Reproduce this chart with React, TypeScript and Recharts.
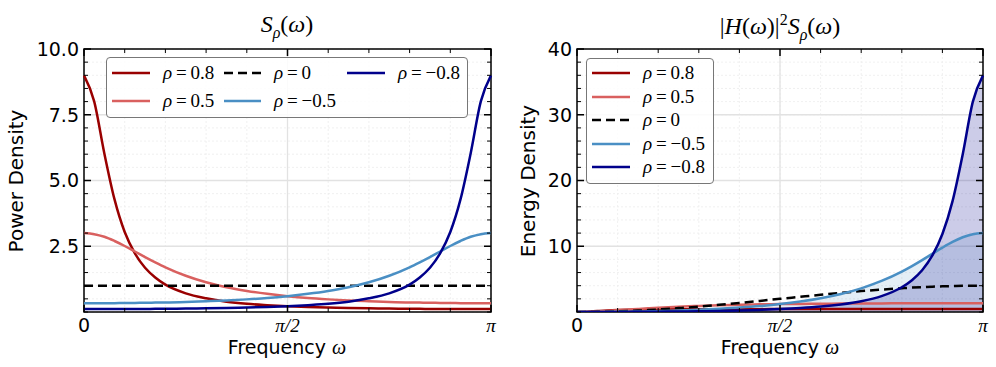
import React from "react";
import {
  ComposedChart,
  Line,
  Area,
  XAxis,
  YAxis,
  CartesianGrid,
  ReferenceArea,
} from "recharts";

// frequency grid, as a fraction of pi
const omega = [
  0, 0.025, 0.05, 0.075, 0.1, 0.125, 0.15, 0.175, 0.2, 0.25, 0.3, 0.35, 0.4, 0.45, 0.5,
  0.55, 0.6, 0.65, 0.7, 0.75, 0.8, 0.825, 0.85, 0.875, 0.9, 0.925, 0.95, 0.975, 1,
];

// left panel: power density S_rho(omega)
const s08 = [
  9.0, 8.01, 6.03, 4.28, 3.04, 2.23, 1.68, 1.31, 1.04, 0.71, 0.52, 0.39, 0.31, 0.26, 0.22,
  0.19, 0.17, 0.15, 0.14, 0.13, 0.123, 0.12, 0.117, 0.116, 0.114, 0.113, 0.112, 0.111, 0.111,
];
const s05 = [
  3.0, 2.96, 2.86, 2.7, 2.51, 2.3, 2.09, 1.89, 1.7, 1.38, 1.13, 0.94, 0.8, 0.69, 0.6,
  0.53, 0.48, 0.44, 0.41, 0.38, 0.36, 0.357, 0.35, 0.345, 0.341, 0.337, 0.335, 0.334, 0.333,
];
const s0 = omega.map(() => 1);
const sm05 = [
  0.333, 0.334, 0.335, 0.337, 0.341, 0.345, 0.35, 0.357, 0.36, 0.38, 0.41, 0.44, 0.48, 0.53, 0.6,
  0.69, 0.8, 0.94, 1.13, 1.38, 1.7, 1.89, 2.09, 2.3, 2.51, 2.7, 2.86, 2.96, 3.0,
];
const sm08 = [
  0.111, 0.111, 0.112, 0.113, 0.114, 0.116, 0.117, 0.12, 0.123, 0.13, 0.14, 0.15, 0.17, 0.19, 0.22,
  0.26, 0.31, 0.39, 0.52, 0.71, 1.04, 1.31, 1.68, 2.23, 3.04, 4.28, 6.03, 8.01, 9.0,
];

// right panel: energy density |H|^2 S_rho
const e08 = [
  0, 0.05, 0.15, 0.24, 0.3, 0.34, 0.37, 0.385, 0.4, 0.415, 0.425, 0.43, 0.434, 0.437, 0.439,
  0.44, 0.442, 0.442, 0.443, 0.443, 0.444, 0.444, 0.444, 0.444, 0.444, 0.444, 0.444, 0.444, 0.444,
];
const e05 = [
  0, 0.018, 0.07, 0.15, 0.25, 0.35, 0.46, 0.56, 0.65, 0.81, 0.93, 1.03, 1.1, 1.16, 1.2,
  1.23, 1.26, 1.28, 1.3, 1.31, 1.317, 1.322, 1.325, 1.328, 1.33, 1.331, 1.332, 1.333, 1.333,
];
const e0 = [
  0, 0.006, 0.025, 0.055, 0.1, 0.15, 0.22, 0.29, 0.38, 0.59, 0.82, 1.09, 1.38, 1.69, 2.0,
  2.31, 2.62, 2.91, 3.18, 3.41, 3.62, 3.71, 3.78, 3.85, 3.9, 3.94, 3.98, 3.99, 4.0,
];
const em05 = [
  0, 0.002, 0.008, 0.019, 0.033, 0.053, 0.076, 0.105, 0.14, 0.22, 0.34, 0.48, 0.67, 0.9, 1.2,
  1.59, 2.09, 2.74, 3.6, 4.72, 6.15, 6.99, 7.9, 8.85, 9.79, 10.66, 11.37, 11.84, 12.0,
];
const em08 = [
  0, 0.001, 0.003, 0.006, 0.011, 0.018, 0.026, 0.035, 0.047, 0.076, 0.115, 0.17, 0.23, 0.32, 0.44,
  0.6, 0.82, 1.15, 1.64, 2.42, 3.77, 4.84, 6.35, 8.56, 11.87, 16.86, 23.97, 32.0, 36.0,
];

const xTicks = [0, 0.1, 0.2, 0.3, 0.4, 0.5, 0.6, 0.7, 0.8, 0.9, 1];
const xMajor: [number, string][] = [[0, "0"], [0.5, "π/2"], [1, "π"]];
const leftYTicks = Array.from({ length: 21 }, (_, i) => i * 0.5);
const leftYMajor: [number, string][] = [[2.5, "2.5"], [5, "5.0"], [7.5, "7.5"], [10, "10.0"]];
const rightYTicks = Array.from({ length: 21 }, (_, i) => i * 2);
const rightYMajor: [number, string][] = [[10, "10"], [20, "20"], [30, "30"], [40, "40"]];

const C08 = "#990000";
const C05 = "#d9605f";
const CM05 = "#4a8fc4";
const CM08 = "#00008b";
const DASH = "9 5";

const leftData = omega.map((w, i) => ({
  w, s08: s08[i], s05: s05[i], s0: s0[i], sm05: sm05[i], sm08: sm08[i],
}));
const rightData = omega.map((w, i) => ({
  w, e08: e08[i], e05: e05[i], e0: e0[i], em05: em05[i], em08: em08[i],
}));

const SANS = "'DejaVu Sans', sans-serif";
const SERIF = "'Liberation Serif', 'DejaVu Serif', serif";
const PH = 263;

function findLabel(list: [number, string][], v: number) {
  const hit = list.find(([t]) => Math.abs(t - v) < 1e-6);
  return hit ? hit[1] : null;
}

function xTick(ph: number) {
  return (props: any) => {
    const { x, y, payload } = props;
    const lab = findLabel(xMajor, payload.value);
    const len = lab ? 7 : 4;
    const sw = lab ? 1.5 : 1;
    const serif = lab && lab !== "0";
    return (
      <g>
        <line x1={x} x2={x} y1={y} y2={y - len} stroke="#000" strokeWidth={sw} />
        <line x1={x} x2={x} y1={y - ph} y2={y - ph + len} stroke="#000" strokeWidth={sw} />
        {lab && (
          <text
            x={x}
            y={y + 20}
            textAnchor="middle"
            fontSize={19}
            fontFamily={serif ? SERIF : SANS}
            fontStyle={serif ? "italic" : "normal"}
            fill="#000"
          >
            {lab}
          </text>
        )}
      </g>
    );
  };
}

function yTick(pw: number, major: [number, string][]) {
  return (props: any) => {
    const { x, y, payload } = props;
    const lab = findLabel(major, payload.value);
    const len = lab ? 7 : 4;
    const sw = lab ? 1.5 : 1;
    return (
      <g>
        <line x1={x} x2={x + len} y1={y} y2={y} stroke="#000" strokeWidth={sw} />
        <line x1={x + pw} x2={x + pw - len} y1={y} y2={y} stroke="#000" strokeWidth={sw} />
        {lab && (
          <text x={x - 5} y={y} dy="0.36em" textAnchor="end" fontSize={19} fontFamily={SANS} fill="#000">
            {lab}
          </text>
        )}
      </g>
    );
  };
}

function Rho({ v }: { v: string }) {
  return (
    <span style={{ fontFamily: SERIF, fontSize: 19, whiteSpace: "nowrap" }}>
      <i>ρ</i>
      {"\u2009=\u2009"}
      {v}
    </span>
  );
}

function LegendItem({ x1, x2, tx, y, color, dashed, v }: any) {
  return (
    <>
      <svg
        style={{ position: "absolute", left: x1, top: y - 3, overflow: "visible" }}
        width={x2 - x1}
        height={6}
      >
        <line
          x1={0}
          x2={x2 - x1}
          y1={3}
          y2={3}
          stroke={color}
          strokeWidth={2.6}
          strokeDasharray={dashed ? DASH : undefined}
        />
      </svg>
      <div style={{ position: "absolute", left: tx, top: y, transform: "translateY(-52%)", lineHeight: 1 }}>
        <Rho v={v} />
      </div>
    </>
  );
}

const boxStyle: React.CSSProperties = {
  position: "absolute",
  background: "rgba(255,255,255,0.85)",
  border: "1px solid #777",
  borderRadius: 4,
  boxSizing: "border-box",
};

const leftLegend = [
  { x1: 112, x2: 150, tx: 163, y: 73, color: C08, v: "0.8" },
  { x1: 112, x2: 150, tx: 163, y: 101, color: C05, v: "0.5" },
  { x1: 224, x2: 261, tx: 274, y: 73, color: "#000", dashed: true, v: "0" },
  { x1: 224, x2: 261, tx: 274, y: 101, color: CM05, v: "\u22120.5" },
  { x1: 347, x2: 385, tx: 398, y: 73, color: CM08, v: "\u22120.8" },
];
const rightLegend = [
  { x1: 592, x2: 630, tx: 643, y: 73, color: C08, v: "0.8" },
  { x1: 592, x2: 630, tx: 643, y: 97, color: C05, v: "0.5" },
  { x1: 592, x2: 630, tx: 643, y: 120, color: "#000", dashed: true, v: "0" },
  { x1: 592, x2: 630, tx: 643, y: 144, color: CM05, v: "\u22120.5" },
  { x1: 592, x2: 630, tx: 643, y: 167, color: CM08, v: "\u22120.8" },
];

const textAbs = (left: number, top: number, extra?: React.CSSProperties): React.CSSProperties => ({
  position: "absolute",
  left,
  top,
  whiteSpace: "nowrap",
  lineHeight: 1,
  ...extra,
});

export default function App() {
  const lineProps = { type: "monotone" as const, dot: false, isAnimationActive: false, strokeWidth: 2.5 };
  return (
    <div style={{ position: "absolute", left: 0, top: 0, width: 996, height: 367, background: "#fff", fontFamily: SANS }}>
      {/* left panel */}
      <div style={{ position: "absolute", left: 0, top: 0 }}>
        <ComposedChart width={500} height={367} data={leftData} margin={{ top: 49, left: 83, right: 9, bottom: 54 }}>
          <CartesianGrid verticalValues={xTicks} horizontalValues={leftYTicks} stroke="#ececec" strokeDasharray="2 2" strokeWidth={0.8} />
          <CartesianGrid verticalValues={[0.5]} horizontalValues={[2.5, 5, 7.5]} stroke="#e2e2e2" strokeWidth={1.3} />
          <XAxis dataKey="w" type="number" domain={[0, 1]} ticks={xTicks} interval={0} height={1} tickSize={0} tickMargin={0} axisLine={false} tick={xTick(PH)} />
          <YAxis type="number" domain={[0, 10]} ticks={leftYTicks} interval={0} width={1} tickSize={0} tickMargin={0} axisLine={false} tick={yTick(407, leftYMajor)} allowDataOverflow />
          <Line dataKey="s08" stroke={C08} {...lineProps} />
          <Line dataKey="s05" stroke={C05} {...lineProps} />
          <Line dataKey="s0" stroke="#000" strokeDasharray={DASH} {...lineProps} />
          <Line dataKey="sm05" stroke={CM05} {...lineProps} />
          <Line dataKey="sm08" stroke={CM08} {...lineProps} />
          <ReferenceArea x1={0} x2={1} y1={0} y2={10} fill="none" stroke="#000" strokeWidth={1.5} />
        </ComposedChart>
      </div>

      {/* right panel */}
      <div style={{ position: "absolute", left: 500, top: 0 }}>
        <ComposedChart width={496} height={367} data={rightData} margin={{ top: 49, left: 76, right: 13, bottom: 54 }}>
          <CartesianGrid verticalValues={xTicks} horizontalValues={rightYTicks} stroke="#ececec" strokeDasharray="2 2" strokeWidth={0.8} />
          <CartesianGrid verticalValues={[0.5]} horizontalValues={[10, 20, 30]} stroke="#e2e2e2" strokeWidth={1.3} />
          <XAxis dataKey="w" type="number" domain={[0, 1]} ticks={xTicks} interval={0} height={1} tickSize={0} tickMargin={0} axisLine={false} tick={xTick(PH)} />
          <YAxis type="number" domain={[0, 40]} ticks={rightYTicks} interval={0} width={1} tickSize={0} tickMargin={0} axisLine={false} tick={yTick(406, rightYMajor)} allowDataOverflow />
          <Area dataKey="em05" type="monotone" stroke="none" fill={CM05} fillOpacity={0.15} isAnimationActive={false} />
          <Area dataKey="em08" type="monotone" stroke="none" fill={CM08} fillOpacity={0.2} isAnimationActive={false} />
          <Line dataKey="e08" stroke={C08} {...lineProps} />
          <Line dataKey="e05" stroke={C05} {...lineProps} />
          <Line dataKey="e0" stroke="#000" strokeDasharray={DASH} {...lineProps} />
          <Line dataKey="em05" stroke={CM05} {...lineProps} />
          <Line dataKey="em08" stroke={CM08} {...lineProps} />
          <ReferenceArea x1={0} x2={1} y1={0} y2={40} fill="none" stroke="#000" strokeWidth={1.5} />
        </ComposedChart>
      </div>

      {/* titles */}
      <div style={textAbs(287, 12, { transform: "translateX(-50%)", fontFamily: SERIF, fontSize: 24 })}>
        <i>S</i>
        <sub style={{ fontSize: 16 }}><i>ρ</i></sub>(<i>ω</i>)
      </div>
      <div style={textAbs(780, 12, { transform: "translateX(-50%)", fontFamily: SERIF, fontSize: 24 })}>
        |<i>H</i>(<i>ω</i>)|<sup style={{ fontSize: 16 }}>2</sup>
        <i>S</i>
        <sub style={{ fontSize: 16 }}><i>ρ</i></sub>(<i>ω</i>)
      </div>

      {/* axis labels */}
      <div style={textAbs(287, 337, { transform: "translateX(-50%)", fontSize: 19 })}>
        Frequency <i style={{ fontFamily: SERIF, fontSize: 20 }}>ω</i>
      </div>
      <div style={textAbs(780, 337, { transform: "translateX(-50%)", fontSize: 19 })}>
        Frequency <i style={{ fontFamily: SERIF, fontSize: 20 }}>ω</i>
      </div>
      <div style={textAbs(16, 181, { transform: "translate(-50%, -50%) rotate(-90deg)", fontSize: 20 })}>
        Power Density
      </div>
      <div style={textAbs(528, 181, { transform: "translate(-50%, -50%) rotate(-90deg)", fontSize: 20 })}>
        Energy Density
      </div>

      {/* legends */}
      <div style={{ ...boxStyle, left: 106, top: 57, width: 362, height: 61 }} />
      {leftLegend.map((it) => (
        <LegendItem key={"l" + it.v} {...it} />
      ))}
      <div style={{ ...boxStyle, left: 586, top: 58, width: 128, height: 126 }} />
      {rightLegend.map((it) => (
        <LegendItem key={"r" + it.v} {...it} />
      ))}
    </div>
  );
}
